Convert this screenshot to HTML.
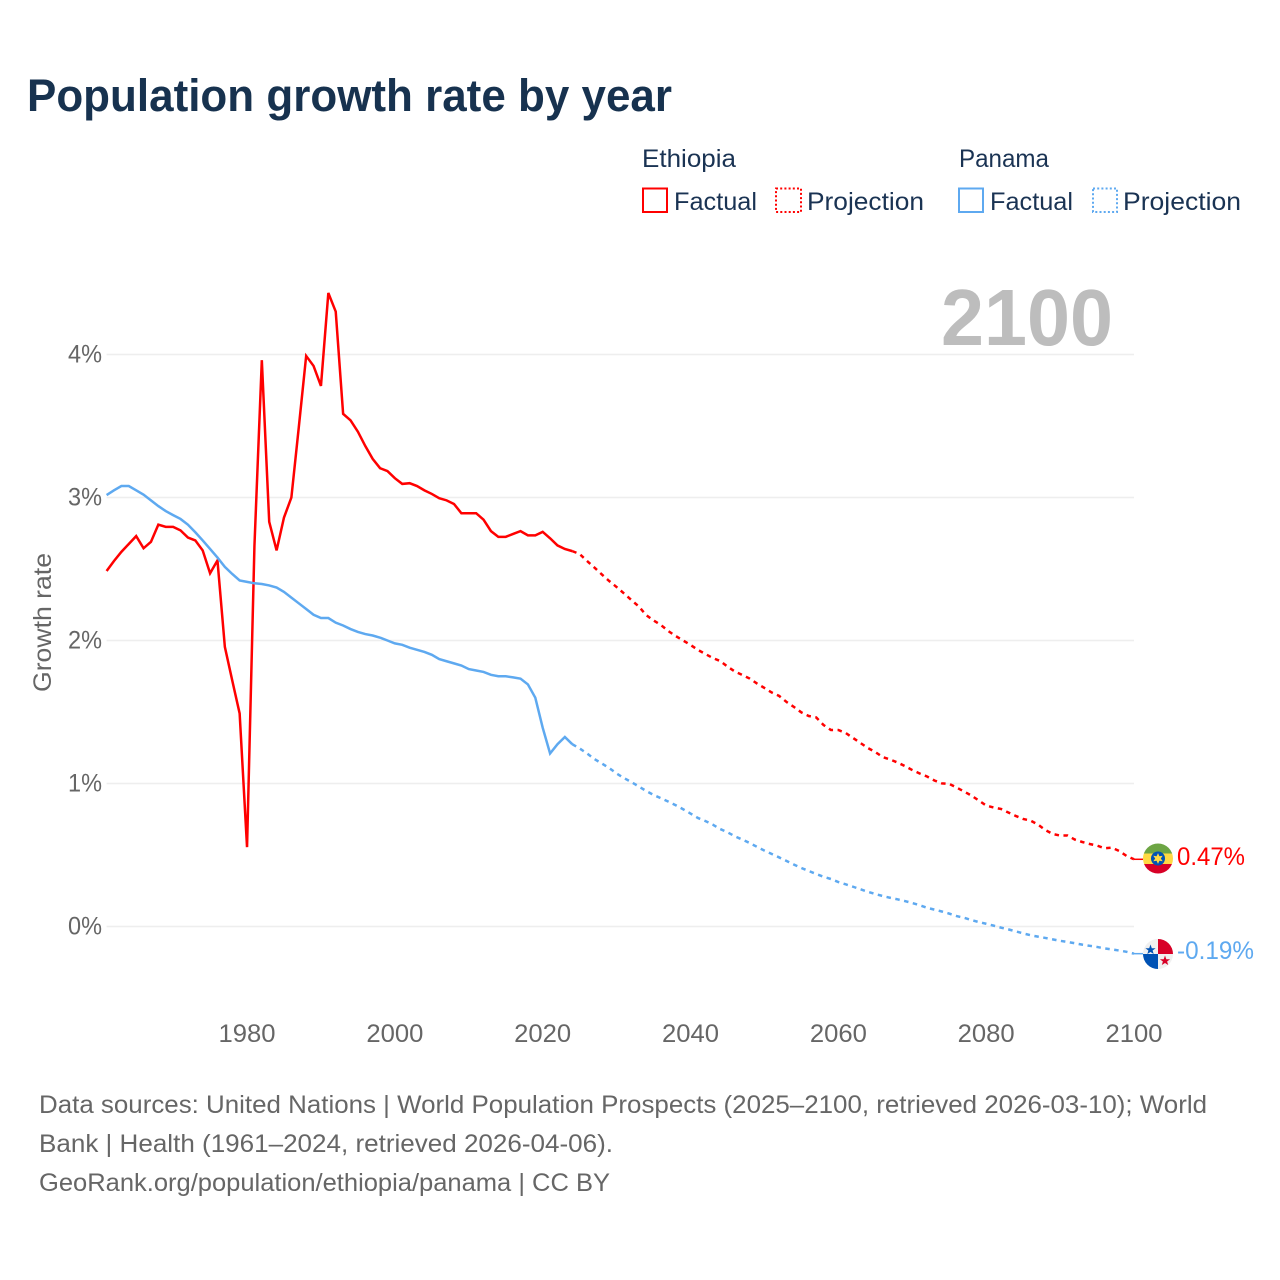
<!DOCTYPE html>
<html lang="en">
<head>
<meta charset="utf-8">
<title>Population growth rate by year</title>
<style>
html,body{margin:0;padding:0;background:#fff;width:1280px;height:1280px;overflow:hidden}
svg{display:block}
text{font-family:"Liberation Sans",sans-serif}
.tick{font-size:25px;fill:#666}
.legend{font-size:25px;fill:#1a3353}
.foot{font-size:25px;fill:#666}
</style>
</head>
<body>
<svg id="chart" xmlns="http://www.w3.org/2000/svg" width="1280" height="1280" viewBox="0 0 1280 1280">
  <rect width="1280" height="1280" fill="#fff"/>
  <text x="27" y="111" font-size="45" font-weight="700" fill="#17324f" textLength="645" lengthAdjust="spacingAndGlyphs">Population growth rate by year</text>

  <g>
    <text class="legend" x="642" y="167" textLength="94" lengthAdjust="spacingAndGlyphs">Ethiopia</text>
    <rect x="643" y="188.5" width="24" height="23.5" fill="none" stroke="#ff0000" stroke-width="2"/>
    <text class="legend" x="674" y="210" textLength="83" lengthAdjust="spacingAndGlyphs">Factual</text>
    <rect x="776" y="188.5" width="25" height="23.5" fill="none" stroke="#ff0000" stroke-width="2" stroke-dasharray="2 2.2"/>
    <text class="legend" x="807" y="210" textLength="117" lengthAdjust="spacingAndGlyphs">Projection</text>
    <text class="legend" x="959" y="167" textLength="90" lengthAdjust="spacingAndGlyphs">Panama</text>
    <rect x="959" y="188.5" width="24" height="23.5" fill="none" stroke="#5ea9f0" stroke-width="2"/>
    <text class="legend" x="990" y="210" textLength="83" lengthAdjust="spacingAndGlyphs">Factual</text>
    <rect x="1093" y="188.5" width="24" height="23.5" fill="none" stroke="#5ea9f0" stroke-width="2" stroke-dasharray="2 2.2"/>
    <text class="legend" x="1123" y="210" textLength="118" lengthAdjust="spacingAndGlyphs">Projection</text>
  </g>

  <text x="941" y="345" font-size="80" font-weight="700" fill="#bdbdbd" textLength="172" lengthAdjust="spacingAndGlyphs">2100</text>
  <text class="tick" transform="translate(51,692) rotate(-90)" textLength="139" lengthAdjust="spacingAndGlyphs">Growth rate</text>

  <g id="grid"></g>
  <g id="yticks"></g>
  <g id="xticks"></g>
  <g id="series"></g>

  <g transform="translate(1158,858.5)">
    <clipPath id="clip-et"><circle r="15"/></clipPath>
    <g clip-path="url(#clip-et)">
      <rect x="-15" y="-15" width="30" height="10" fill="#6da544"/>
      <rect x="-15" y="-5" width="30" height="10.5" fill="#ffda44"/>
      <rect x="-15" y="5.5" width="30" height="10" fill="#d80027"/>
    </g>
    <circle r="7" fill="#0052b4"/>
    <polygon points="0,-5.4 1.4,-2.3 4.7,-2.7 2.8,0 4.7,2.7 1.4,2.3 0,5.4 -1.4,2.3 -4.7,2.7 -2.8,0 -4.7,-2.7 -1.4,-2.3" fill="#ffda44"/>
  </g>
  <g transform="translate(1158,954)">
    <clipPath id="clip-pa"><circle r="15"/></clipPath>
    <g clip-path="url(#clip-pa)">
      <rect x="-15" y="-15" width="30" height="30" fill="#f0f0f0"/>
      <rect x="0" y="-15" width="15" height="15" fill="#d80027"/>
      <rect x="-15" y="0" width="15" height="15" fill="#0052b4"/>
    </g>
    <polygon points="-7.5,-9.5 -6.2,-5.8 -2.4,-5.8 -5.4,-3.5 -4.3,0 -7.5,-2 -10.7,0 -9.6,-3.5 -12.6,-5.8 -8.8,-5.8" fill="#0052b4"/>
    <polygon points="7,1.5 8.3,5.2 12.1,5.2 9.1,7.5 10.2,11 7,9 3.8,11 4.9,7.5 1.9,5.2 5.7,5.2" fill="#d80027"/>
  </g>

  <text x="1177" y="865" font-size="25" fill="#ff0000" textLength="68" lengthAdjust="spacingAndGlyphs">0.47%</text>
  <text x="1177" y="959" font-size="25" fill="#5ea9f0" textLength="77" lengthAdjust="spacingAndGlyphs">-0.19%</text>

  <g>
    <text class="foot" x="39" y="1113" textLength="1168" lengthAdjust="spacingAndGlyphs">Data sources: United Nations | World Population Prospects (2025–2100, retrieved 2026-03-10); World</text>
    <text class="foot" x="39" y="1152" textLength="574" lengthAdjust="spacingAndGlyphs">Bank | Health (1961–2024, retrieved 2026-04-06).</text>
    <text class="foot" x="39" y="1191" textLength="571" lengthAdjust="spacingAndGlyphs">GeoRank.org/population/ethiopia/panama | CC BY</text>
  </g>
</svg>
<script>
const yTickValues = [0, 1, 2, 3, 4];
const xTickYears = [1980, 2000, 2020, 2040, 2060, 2080, 2100];
const factualStartYear = 1961;
const projectionStartYear = 2025;
const ethiopiaFactual = [2.486,2.556,2.62,2.675,2.73,2.645,2.69,2.81,2.795,2.795,2.77,2.72,2.70,2.63,2.47,2.56,1.955,1.72,1.49,0.555,2.66,3.96,2.83,2.63,2.86,3.0,3.49,3.99,3.92,3.78,4.43,4.30,3.585,3.54,3.46,3.36,3.27,3.205,3.185,3.135,3.095,3.10,3.08,3.05,3.025,2.995,2.98,2.955,2.89,2.89,2.89,2.845,2.765,2.725,2.725,2.745,2.765,2.735,2.735,2.76,2.715,2.665,2.64,2.625];
const ethiopiaProjection = [2.605,2.556,2.510,2.462,2.416,2.374,2.329,2.283,2.238,2.178,2.140,2.108,2.066,2.031,2.0,1.969,1.934,1.906,1.878,1.857,1.818,1.783,1.759,1.734,1.699,1.668,1.636,1.612,1.570,1.535,1.497,1.472,1.462,1.409,1.374,1.374,1.353,1.318,1.283,1.248,1.220,1.185,1.168,1.147,1.122,1.094,1.070,1.049,1.021,1.001,0.997,0.972,0.944,0.916,0.881,0.846,0.832,0.822,0.797,0.773,0.752,0.741,0.713,0.675,0.647,0.636,0.636,0.608,0.591,0.577,0.566,0.547,0.551,0.528,0.493,0.47];
const panamaFactual = [3.017,3.05,3.08,3.08,3.05,3.02,2.98,2.94,2.905,2.877,2.85,2.81,2.757,2.70,2.64,2.58,2.515,2.465,2.42,2.41,2.40,2.395,2.385,2.37,2.34,2.30,2.26,2.22,2.18,2.157,2.157,2.125,2.105,2.08,2.06,2.045,2.035,2.02,2.00,1.98,1.97,1.95,1.935,1.92,1.90,1.87,1.855,1.84,1.825,1.80,1.79,1.78,1.76,1.75,1.75,1.742,1.733,1.693,1.60,1.39,1.21,1.275,1.325,1.275];
const panamaProjection = [1.245,1.210,1.171,1.140,1.108,1.070,1.038,1.010,0.979,0.948,0.920,0.897,0.873,0.848,0.820,0.790,0.759,0.738,0.713,0.682,0.659,0.631,0.608,0.584,0.557,0.531,0.507,0.483,0.458,0.433,0.409,0.388,0.367,0.348,0.332,0.311,0.295,0.278,0.260,0.243,0.227,0.213,0.201,0.190,0.178,0.164,0.149,0.131,0.118,0.105,0.090,0.073,0.061,0.045,0.031,0.019,0.006,-0.008,-0.020,-0.034,-0.048,-0.061,-0.071,-0.080,-0.090,-0.100,-0.108,-0.117,-0.127,-0.135,-0.143,-0.153,-0.160,-0.168,-0.177,-0.19];

const NS = 'http://www.w3.org/2000/svg';
const RED = '#ff0000';
const BLUE = '#5ea9f0';
function xScale(year) { return 106.6 + (year - 1961) * (1134 - 106.6) / (2100 - 1961); }
function yScale(value) { return 926.5 - value * 143; }
function seriesPath(values, startYear, lead) {
  const pts = values.map(function (v, i) { return [xScale(startYear + i), yScale(v)]; });
  if (lead) pts.unshift(lead);
  return 'M' + pts.map(function (p) { return p[0].toFixed(2) + ' ' + p[1].toFixed(2); }).join('L');
}
const gridGroup = document.getElementById('grid');
yTickValues.forEach(function (v) {
  const line = document.createElementNS(NS, 'line');
  
  
  line.setAttribute('x1', xScale(1961));
  line.setAttribute('x2', xScale(2100));
  line.setAttribute('y1', yScale(v));
  line.setAttribute('y2', yScale(v));
  line.setAttribute('stroke', '#eeeeee');
  line.setAttribute('stroke-width', '1.6');
  gridGroup.appendChild(line);
});
const yTickGroup = document.getElementById('yticks');
yTickValues.forEach(function (v) {
  const t = document.createElementNS(NS, 'text');
  
  
  t.setAttribute('class', 'tick');
  t.setAttribute('x', 68);
  t.setAttribute('y', yScale(v) + 8);
  t.setAttribute('textLength', 34);
  t.setAttribute('lengthAdjust', 'spacingAndGlyphs');
  t.textContent = v + '%';
  yTickGroup.appendChild(t);
});
const xTickGroup = document.getElementById('xticks');
xTickYears.forEach(function (year) {
  const t = document.createElementNS(NS, 'text');
  
  
  t.setAttribute('class', 'tick');
  t.setAttribute('x', xScale(year) - 28.5);
  t.setAttribute('y', 1042);
  t.setAttribute('textLength', 57);
  t.setAttribute('lengthAdjust', 'spacingAndGlyphs');
  t.textContent = year;
  xTickGroup.appendChild(t);
});
const seriesGroup = document.getElementById('series');
function addLine(name, d, color, dash) {
  const p = document.createElementNS(NS, 'path');
  
  
  p.setAttribute('d', d);
  p.setAttribute('fill', 'none');
  p.setAttribute('stroke', color);
  p.setAttribute('stroke-width', '2.5');
  p.setAttribute('stroke-linejoin', 'miter');
  if (dash) p.setAttribute('stroke-dasharray', dash);
  seriesGroup.appendChild(p);
}
function addConnector(name, lastValue, color) {
  const l = document.createElementNS(NS, 'line');
  
  
  l.setAttribute('x1', xScale(2100));
  l.setAttribute('x2', 1143);
  l.setAttribute('y1', yScale(lastValue));
  l.setAttribute('y2', yScale(lastValue));
  l.setAttribute('stroke', color);
  l.setAttribute('stroke-width', '1.5');
  seriesGroup.appendChild(l);
}
const etLast = ethiopiaFactual[ethiopiaFactual.length - 1];
const paLast = panamaFactual[panamaFactual.length - 1];
addLine('panama-projection-line', seriesPath(panamaProjection, projectionStartYear, [xScale(2024), yScale(paLast)]), BLUE, '4.5 4.5');
addLine('ethiopia-projection-line', seriesPath(ethiopiaProjection, projectionStartYear, [xScale(2024), yScale(etLast)]), RED, '4.5 4.5');
addLine('ethiopia-factual-line', seriesPath(ethiopiaFactual, factualStartYear), RED);
addLine('panama-factual-line', seriesPath(panamaFactual, factualStartYear), BLUE);
addConnector('ethiopia-flag-connector', ethiopiaProjection[ethiopiaProjection.length - 1], RED);
addConnector('panama-flag-connector', panamaProjection[panamaProjection.length - 1], BLUE);
</script>
</body>
</html>
